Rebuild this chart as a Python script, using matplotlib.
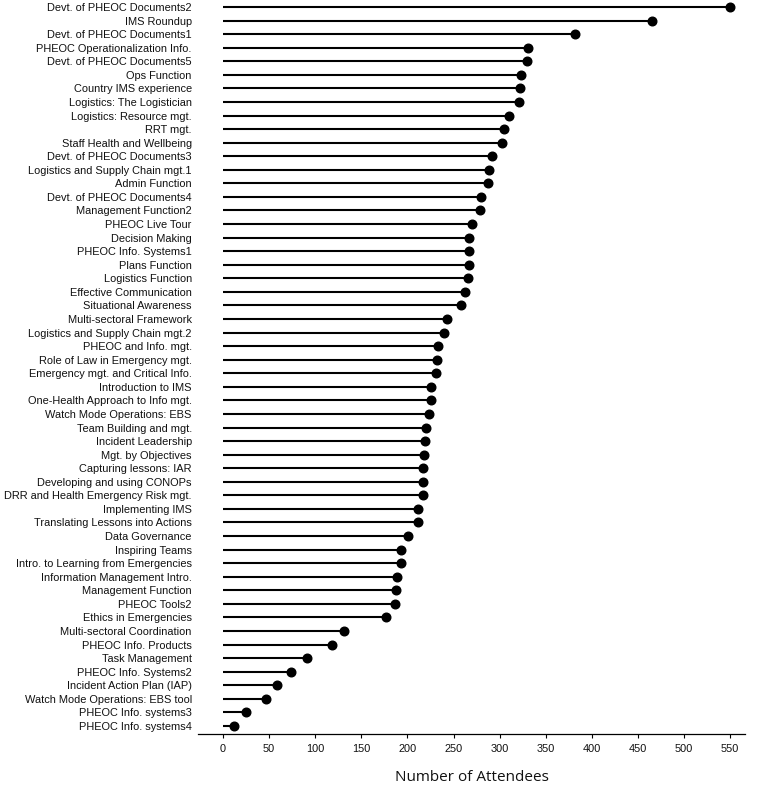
import matplotlib
matplotlib.use("Agg")
import matplotlib.pyplot as plt

# sessions, from top to bottom as they appear in the chart
sessions = [
    "Devt. of PHEOC Documents2", "IMS Roundup", "Devt. of PHEOC Documents1",
    "PHEOC Operationalization Info.", "Devt. of PHEOC Documents5", "Ops Function",
    "Country IMS experience", "Logistics: The Logistician", "Logistics: Resource mgt.",
    "RRT mgt.", "Staff Health and Wellbeing", "Devt. of PHEOC Documents3",
    "Logistics and Supply Chain mgt.1", "Admin Function", "Devt. of PHEOC Documents4",
    "Management Function2", "PHEOC Live Tour", "Decision Making",
    "PHEOC Info. Systems1", "Plans Function", "Logistics Function",
    "Effective Communication", "Situational Awareness", "Multi-sectoral Framework",
    "Logistics and Supply Chain mgt.2", "PHEOC and Info. mgt.", "Role of Law in Emergency mgt.",
    "Emergency mgt. and Critical Info.", "Introduction to IMS", "One-Health Approach to Info mgt.",
    "Watch Mode Operations: EBS", "Team Building and mgt.", "Incident Leadership",
    "Mgt. by Objectives", "Capturing lessons: IAR", "Developing and using CONOPs",
    "DRR and Health Emergency Risk mgt.", "Implementing IMS", "Translating Lessons into Actions",
    "Data Governance", "Inspiring Teams", "Intro. to Learning from Emergencies",
    "Information Management Intro.", "Management Function", "PHEOC Tools2",
    "Ethics in Emergencies", "Multi-sectoral Coordination", "PHEOC Info. Products",
    "Task Management", "PHEOC Info. Systems2", "Incident Action Plan (IAP)",
    "Watch Mode Operations: EBS tool", "PHEOC Info. systems3", "PHEOC Info. systems4",
]
attendees = [
    550, 465, 382, 331, 330, 323, 322, 321, 310, 305, 302, 292,
    288, 287, 280, 279, 270, 267, 267, 267, 266, 262, 258, 243,
    240, 233, 232, 231, 226, 225, 223, 220, 219, 218, 217, 217,
    217, 211, 211, 201, 193, 193, 189, 188, 187, 177, 131, 118,
    91, 74, 59, 47, 25, 12,
]
xticks = [0, 50, 100, 150, 200, 250, 300, 350, 400, 450, 500, 550]

n = len(sessions)
ypos = [n - 1 - i for i in range(n)]

fig = plt.figure(figsize=(7.59, 7.87), dpi=100)
ax = fig.add_axes([0.261, 0.0673, 0.7206, 0.9327])

ax.hlines(ypos, 0, attendees, color="black", linewidth=1.5)
ax.plot(attendees, ypos, "o", color="black", markersize=6.2)

ax.set_xlim(-27, 566)
ax.set_ylim(-0.6, n - 0.48)
ax.set_yticks(ypos)
ax.set_yticklabels(sessions, fontfamily="Liberation Sans", fontsize=7.9, color="#111111")
ax.set_xticks(xticks)
ax.set_xticklabels([str(t) for t in xticks], fontfamily="Liberation Sans", fontsize=7.9, color="#111111")
ax.tick_params(axis="y", length=0, pad=4.5)
ax.tick_params(axis="x", length=3, width=0.8, pad=4)

for s in ["top", "right", "left"]:
    ax.spines[s].set_visible(False)
ax.spines["bottom"].set_linewidth(0.9)

ax.set_xlabel("Number of Attendees", fontfamily="Open Sans", fontsize=11, labelpad=12, color="#111111")

fig.savefig("out.png", dpi=100)
